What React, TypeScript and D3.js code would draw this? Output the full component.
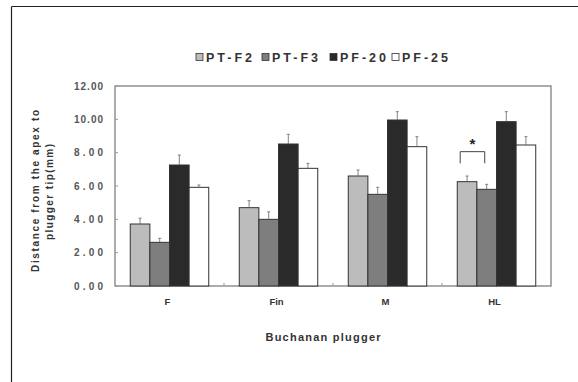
import React, { useEffect, useRef } from "react";
import * as d3 from "d3";

const categories = ["F", "Fin", "M", "HL"];
const seriesNames = ["PT-F2", "PT-F3", "PF-20", "PF-25"];
const seriesColors = ["#bcbcbc", "#7e7e7e", "#2a2a2a", "#ffffff"];
const valuesPTF2 = [3.72, 4.7, 6.6, 6.26];
const valuesPTF3 = [2.62, 4.0, 5.5, 5.8];
const valuesPF20 = [7.26, 8.52, 9.96, 9.86];
const valuesPF25 = [5.92, 7.06, 8.36, 8.46];
const errPTF2 = [0.35, 0.42, 0.36, 0.34];
const errPTF3 = [0.24, 0.45, 0.42, 0.3];
const errPF20 = [0.6, 0.58, 0.5, 0.6];
const errPF25 = [0.14, 0.3, 0.6, 0.5];
const yTicks = [0, 2, 4, 6, 8, 10, 12];
const yLabelLines = ["Distance from the apex to", "plugger tip(mm)"];
const xLabel = "Buchanan plugger";

export default function App() {
  const ref = useRef<SVGSVGElement>(null);
  useEffect(() => {
    const svg = d3.select(ref.current);
    svg.selectAll("*").remove();
    const W = 578, H = 382;
    const m = { left: 115, right: 551, top: 86, bottom: 286 };
    const font = "'Liberation Sans', Arial, sans-serif";

    // outer frame
    svg.append("line").attr("x1", 11.5).attr("x2", 11.5).attr("y1", 6.5).attr("y2", H).attr("stroke", "#222").attr("stroke-width", 1.2);
    svg.append("line").attr("x1", 11.5).attr("x2", W).attr("y1", 6.5).attr("y2", 6.5).attr("stroke", "#222").attr("stroke-width", 1.2);

    const x0 = d3.scaleBand().domain(categories).range([m.left, m.right]).paddingInner(0.28).paddingOuter(0.14);
    const x1 = d3.scaleBand().domain(seriesNames).range([0, x0.bandwidth()]).padding(0);
    const y = d3.scaleLinear().domain([0, 12]).range([m.bottom, m.top]);

    const vals = [valuesPTF2, valuesPTF3, valuesPF20, valuesPF25];
    const errs = [errPTF2, errPTF3, errPF20, errPF25];

    // plot box
    svg.append("rect").attr("x", m.left).attr("y", m.top).attr("width", m.right - m.left).attr("height", m.bottom - m.top)
      .attr("fill", "none").attr("stroke", "#808080").attr("stroke-width", 1.3);

    // y ticks
    const g = svg.append("g");
    yTicks.forEach((t) => {
      g.append("line").attr("x1", m.left).attr("x2", m.left + 3).attr("y1", y(t)).attr("y2", y(t)).attr("stroke", "#999");
      g.append("text").attr("x", 103).attr("y", y(t) + 3.5).attr("text-anchor", "end").attr("font-family", font)
        .attr("font-weight", "bold").attr("font-size", 10).attr("fill", "#555").attr("textLength", 29).attr("lengthAdjust", "spacing")
        .text(d3.format(".2f")(t));
    });

    // x ticks at category boundaries
    for (let i = 1; i < categories.length; i++) {
      const xb = (x0(categories[i - 1])! + x0.bandwidth() + x0(categories[i])!) / 2;
      g.append("line").attr("x1", xb).attr("x2", xb).attr("y1", m.bottom).attr("y2", m.bottom - 3).attr("stroke", "#999");
    }

    // bars
    categories.forEach((c, ci) => {
      seriesNames.forEach((s, si) => {
        const v = vals[si][ci];
        const e = errs[si][ci];
        const bx = x0(c)! + x1(s)!;
        const bw = x1.bandwidth();
        svg.append("rect").attr("x", bx).attr("y", y(v)).attr("width", bw).attr("height", y(0) - y(v))
          .attr("fill", seriesColors[si]).attr("stroke", "#333").attr("stroke-width", 1);
        const cx = bx + bw / 2;
        svg.append("line").attr("x1", cx).attr("x2", cx).attr("y1", y(v)).attr("y2", y(v + e)).attr("stroke", "#666").attr("stroke-width", 0.8);
        svg.append("line").attr("x1", cx - 1.5).attr("x2", cx + 1.5).attr("y1", y(v + e)).attr("y2", y(v + e)).attr("stroke", "#666").attr("stroke-width", 0.8);
      });
    });

    // significance bracket on HL
    const hl = "HL";
    const bL = x0(hl)! + x1(seriesNames[0])! + x1.bandwidth() * 0.15;
    const bR = x0(hl)! + x1(seriesNames[1])! + x1.bandwidth() * 0.4;
    const top = y(valuesPTF2[3] + 1.8);
    const bot = y(valuesPTF2[3] + 1.1);
    svg.append("path").attr("d", `M${bL},${bot}V${top}H${bR}V${bot}`).attr("fill", "none").attr("stroke", "#444").attr("stroke-width", 1);
    svg.append("text").attr("x", (bL + bR) / 2).attr("y", top - 3).attr("text-anchor", "middle").attr("font-family", font)
      .attr("font-weight", "bold").attr("font-size", 15).attr("fill", "#222").text("*");

    // x category labels
    categories.forEach((c) => {
      svg.append("text").attr("x", x0(c)! + x0.bandwidth() / 2 - 2).attr("y", 305).attr("text-anchor", "middle")
        .attr("font-family", font).attr("font-weight", "bold").attr("font-size", 9.5).attr("fill", "#333").text(c);
    });

    // x axis title
    svg.append("text").attr("x", 323).attr("y", 341).attr("text-anchor", "middle").attr("font-family", font)
      .attr("font-weight", "bold").attr("font-size", 11).attr("fill", "#333").attr("textLength", 115).attr("lengthAdjust", "spacing").text(xLabel);

    // y axis title
    const yl = svg.append("g").attr("transform", `translate(39,191) rotate(-90)`);
    yl.append("text").attr("x", 0).attr("y", 0).attr("text-anchor", "middle").attr("font-family", font)
      .attr("font-weight", "bold").attr("font-size", 10).attr("fill", "#333").attr("textLength", 162).attr("lengthAdjust", "spacing").text(yLabelLines[0]);
    yl.append("text").attr("x", -1).attr("y", 14).attr("text-anchor", "middle").attr("font-family", font)
      .attr("font-weight", "bold").attr("font-size", 10).attr("fill", "#333").attr("textLength", 96).attr("lengthAdjust", "spacing").text(yLabelLines[1]);

    // legend
    const legendX = [196, 262, 330, 392];
    seriesNames.forEach((s, i) => {
      svg.append("rect").attr("x", legendX[i]).attr("y", 53.5).attr("width", 7).attr("height", 7)
        .attr("fill", seriesColors[i]).attr("stroke", "#333").attr("stroke-width", 0.8);
      svg.append("text").attr("x", legendX[i] + 10).attr("y", 61.5).attr("font-family", font).attr("font-weight", "bold")
        .attr("font-size", 12.5).attr("fill", "#333").attr("textLength", 46).attr("lengthAdjust", "spacing").text(s);
    });
  }, []);
  return <svg ref={ref} width={578} height={382} style={{ position: "absolute", left: 0, top: 0, background: "#fff" }} />;
}
